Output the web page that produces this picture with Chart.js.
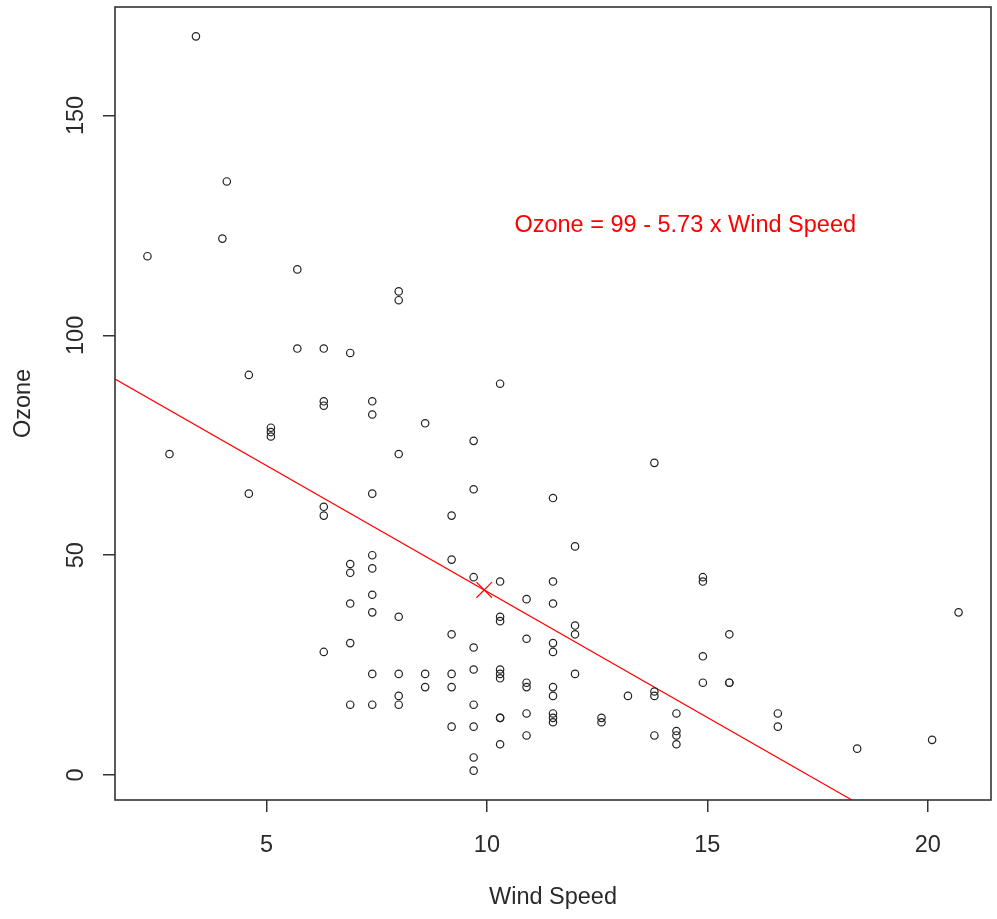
<!DOCTYPE html>
<html lang="en">
<head>
<meta charset="UTF-8">
<title>Ozone vs Wind Speed</title>
<script src="https://cdn.jsdelivr.net/npm/chart.js@4"></script>
<style>
  html, body { margin: 0; padding: 0; background: #fff; }
  canvas { display: block; }
</style>
</head>
<body>
<canvas id="chart" width="997" height="919"></canvas>
<script>
// airquality, complete cases (wind speed in mph, ozone in ppb)
const windSpeed = [
  7.4, 8.0, 12.6, 11.5, 8.6, 13.8, 20.1, 9.7, 9.2, 10.9, 13.2, 11.5, 12.0, 18.4, 11.5, 9.7,
  9.7, 16.6, 9.7, 12.0, 12.0, 14.9, 5.7, 7.4, 9.7, 13.8, 11.5, 8.0, 14.9, 20.7, 9.2, 11.5,
  10.3, 4.1, 9.2, 9.2, 4.6, 10.9, 5.1, 6.3, 5.7, 7.4, 14.3, 14.9, 14.3, 6.9, 10.3, 6.3,
  5.1, 11.5, 6.9, 8.6, 8.0, 8.6, 12.0, 7.4, 7.4, 7.4, 9.2, 6.9, 13.8, 7.4, 4.0, 10.3,
  8.0, 11.5, 11.5, 9.7, 10.3, 6.3, 7.4, 10.9, 10.3, 15.5, 14.3, 9.7, 3.4, 8.0, 9.7, 2.3,
  6.3, 6.3, 6.9, 5.1, 2.8, 4.6, 7.4, 15.5, 10.9, 10.3, 10.9, 9.7, 14.9, 15.5, 6.3, 10.9,
  11.5, 6.9, 13.8, 10.3, 10.3, 8.0, 12.6, 9.2, 10.3, 10.3, 16.6, 6.9, 14.3, 8.0, 11.5
];
const ozone = [
  41, 36, 12, 18, 23, 19, 8, 16, 11, 14, 18, 14, 34, 6, 30, 11,
  1, 11, 4, 32, 23, 45, 115, 37, 29, 71, 39, 23, 21, 37, 20, 12,
  13, 135, 49, 32, 64, 40, 77, 97, 97, 85, 10, 27, 7, 48, 35, 61,
  79, 63, 16, 80, 108, 20, 52, 82, 50, 64, 59, 39, 9, 16, 122, 89,
  110, 44, 28, 65, 22, 59, 23, 31, 44, 21, 9, 45, 168, 73, 76, 118,
  84, 85, 96, 78, 73, 91, 47, 32, 20, 23, 21, 24, 44, 21, 28, 9,
  13, 46, 18, 13, 24, 16, 13, 23, 36, 7, 14, 30, 14, 18, 20
];
const xTicks = [5, 10, 15, 20];
const yTicks = [0, 50, 100, 150];
const xRange = [1.564, 21.436];
const yRange = [-5.68, 174.68];
const fitIntercept = 99.04;
const fitSlope = -5.729;
const fitLabel = 'Ozone = 99 - 5.73 x Wind Speed';
const fitLabelAt = [14.5, 125];

const FONT = '"Liberation Sans", Arial, sans-serif';
const INK = '#2a2a2a';

const points = windSpeed.map((w, i) => ({ x: w, y: ozone[i] }));
const mean = arr => arr.reduce((a, b) => a + b, 0) / arr.length;
const fitLine = xRange.map(x => ({ x: x, y: fitIntercept + fitSlope * x }));

// box around the plot region + the fitted-equation text
const framePlugin = {
  id: 'frame',
  afterDatasetsDraw(chart) {
    const { ctx, chartArea: a, scales: { x, y } } = chart;
    ctx.save();
    ctx.strokeStyle = '#333';
    ctx.lineWidth = 1.6;
    ctx.strokeRect(a.left, a.top, a.right - a.left, a.bottom - a.top);
    ctx.fillStyle = '#ff0000';
    ctx.font = '23.5px ' + FONT;
    ctx.textAlign = 'center';
    ctx.textBaseline = 'middle';
    ctx.fillText(fitLabel, x.getPixelForValue(fitLabelAt[0]), y.getPixelForValue(fitLabelAt[1]));
    ctx.restore();
  }
};

new Chart(document.getElementById('chart'), {
  type: 'scatter',
  data: {
    datasets: [
      {
        data: points,
        pointStyle: 'circle',
        pointRadius: 3.7,
        pointBorderWidth: 1.2,
        borderColor: '#222',
        backgroundColor: 'rgba(0,0,0,0)'
      },
      {
        type: 'line',
        data: fitLine,
        showLine: true,
        pointRadius: 0,
        borderColor: '#ff0000',
        borderWidth: 1.2
      },
      {
        data: [{ x: mean(windSpeed), y: mean(ozone) }],
        pointStyle: 'crossRot',
        pointRadius: 11,
        pointBorderWidth: 1.2,
        borderColor: '#ff0000'
      }
    ]
  },
  options: {
    responsive: false,
    animation: false,
    layout: { autoPadding: false, padding: { top: 7, right: 6, left: 0, bottom: 0 } },
    plugins: { legend: { display: false }, tooltip: { enabled: false } },
    scales: {
      x: {
        type: 'linear',
        min: xRange[0],
        max: xRange[1],
        afterBuildTicks: s => { s.ticks = xTicks.map(v => ({ value: v })); },
        afterFit: s => { s.height = 119; s.paddingLeft = 0; s.paddingRight = 0; },
        border: { display: false },
        grid: { drawOnChartArea: false, drawTicks: true, tickLength: 12, color: '#333', lineWidth: 1.5 },
        ticks: { autoSkip: false, maxRotation: 0, padding: 19, color: INK, font: { family: FONT, size: 23.5 } },
        title: { display: true, text: 'Wind Speed', color: INK, font: { family: FONT, size: 23.5 }, padding: { top: 0, bottom: 7 } }
      },
      y: {
        type: 'linear',
        min: yRange[0],
        max: yRange[1],
        afterBuildTicks: s => { s.ticks = yTicks.map(v => ({ value: v })); },
        afterFit: s => { s.width = 115; s.paddingTop = 0; s.paddingBottom = 0; },
        border: { display: false },
        grid: { drawOnChartArea: false, drawTicks: true, tickLength: 12, color: '#333', lineWidth: 1.5 },
        ticks: { autoSkip: false, minRotation: 90, maxRotation: 90, crossAlign: 'center', padding: 7, color: INK, font: { family: FONT, size: 23.5 } },
        title: { display: true, text: 'Ozone', color: INK, font: { family: FONT, size: 23.5 }, padding: { top: 9, bottom: 0 } }
      }
    }
  },
  plugins: [framePlugin]
});
</script>
</body>
</html>
